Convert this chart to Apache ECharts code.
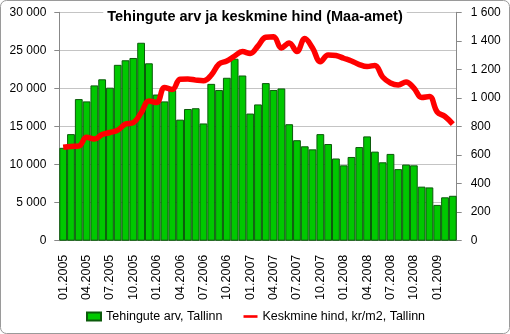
<!DOCTYPE html>
<html><head><meta charset="utf-8">
<script src="https://cdn.jsdelivr.net/npm/echarts@6/dist/echarts.min.js"></script>
<style>html,body{margin:0;padding:0;background:#fff}#c{width:510px;height:334px}</style>
</head><body><div id="c"></div>
<script>
var categories = ["01.2005","02.2005","03.2005","04.2005","05.2005","06.2005","07.2005","08.2005","09.2005","10.2005","11.2005","12.2005",
"01.2006","02.2006","03.2006","04.2006","05.2006","06.2006","07.2006","08.2006","09.2006","10.2006","11.2006","12.2006",
"01.2007","02.2007","03.2007","04.2007","05.2007","06.2007","07.2007","08.2007","09.2007","10.2007","11.2007","12.2007",
"01.2008","02.2008","03.2008","04.2008","05.2008","06.2008","07.2008","08.2008","09.2008","10.2008","11.2008","12.2008",
"01.2009","02.2009","03.2009"];
var counts = [12200,14000,18600,18300,20400,21200,20100,23100,23700,24000,
26000,23300,19200,18300,19800,15900,17300,17400,15400,20600,
19800,21400,23900,21700,16700,17900,20700,19800,20000,15300,
13200,12400,12000,14000,12700,10800,9900,11000,12300,13700,
11700,10300,11400,9400,10000,9900,7100,7000,4700,5700,5900];
var prices = [654,660,663,724,712,744,758,775,817,827,
895,979,968,1073,1059,1131,1133,1125,1120,1160,
1238,1259,1294,1325,1311,1364,1425,1428,1350,1385,
1325,1416,1350,1254,1301,1297,1278,1259,1234,1220,
1228,1147,1105,1091,1112,1070,1003,1010,902,870,817];
var leftTicks = {min:0, max:30000, interval:5000};
var rightTicks = {min:0, max:1600, interval:200};
var seriesNames = ["Tehingute arv, Tallinn","Keskmine hind, kr/m2, Tallinn"];
var titleText = "Tehingute arv ja keskmine hind (Maa-amet)";

function fmt(v){ return String(v).replace(/\B(?=(\d{3})+(?!\d))/g, ' '); }
var FONT = "Liberation Sans";
var chart = echarts.init(document.getElementById('c'), null, {renderer:'canvas'});
chart.setOption({
  animation:false,
  backgroundColor:'#fff',
  title:{text:titleText,left:'center',top:9,padding:[0,4],backgroundColor:'#fff',
    textStyle:{fontFamily:FONT,fontSize:14.5,fontWeight:'bold',color:'#000',lineHeight:15}},
  graphic:[{type:'rect',shape:{x:0.5,y:0.5,width:509,height:333,r:6},style:{fill:'none',stroke:'#9a9a9a',lineWidth:1},z:100}],
  grid:{left:59.3,right:53.3,top:12.3,bottom:93.3},
  legend:{left:86,top:310,padding:0,itemWidth:14,itemHeight:8,itemGap:21,
    textStyle:{fontFamily:FONT,fontSize:12.5,color:'#000'},
    data:[{name:seriesNames[0],icon:'rect'},
          {name:seriesNames[1],icon:'path://M0,0L16,0L16,3L0,3Z',itemStyle:{color:'#ff0000'}}]},
  xAxis:{type:'category',data:categories,boundaryGap:true,
    axisLine:{lineStyle:{color:'#888'}},
    axisTick:{interval:2,length:5,lineStyle:{color:'#888'}},
    axisLabel:{interval:2,rotate:90,margin:14,fontFamily:FONT,fontSize:12.5,color:'#000'}},
  yAxis:[{type:'value',min:leftTicks.min,max:leftTicks.max,interval:leftTicks.interval,
      axisLine:{show:true,lineStyle:{color:'#888'}},
      axisTick:{show:true,length:5,lineStyle:{color:'#888'}},
      splitLine:{lineStyle:{color:'#c4c4c4'}},
      axisLabel:{margin:13,fontFamily:FONT,fontSize:12,color:'#000',formatter:fmt}},
    {type:'value',position:'right',min:rightTicks.min,max:rightTicks.max,interval:rightTicks.interval,
      axisLine:{show:true,lineStyle:{color:'#888'}},
      axisTick:{show:true,length:5,lineStyle:{color:'#888'}},
      splitLine:{show:false},
      axisLabel:{margin:14,fontFamily:FONT,fontSize:12,color:'#000',formatter:fmt}}],
  series:[{name:seriesNames[0],type:'bar',data:counts,barCategoryGap:'0%',
      itemStyle:{color:'#00c800',borderColor:'#0b5a0b',borderWidth:1}},
    {name:seriesNames[1],type:'line',yAxisIndex:1,data:prices,smooth:0.4,symbol:'none',
      lineStyle:{color:'#ff0000',width:5.5},itemStyle:{color:'#ff0000'}}]
});
</script></body></html>
